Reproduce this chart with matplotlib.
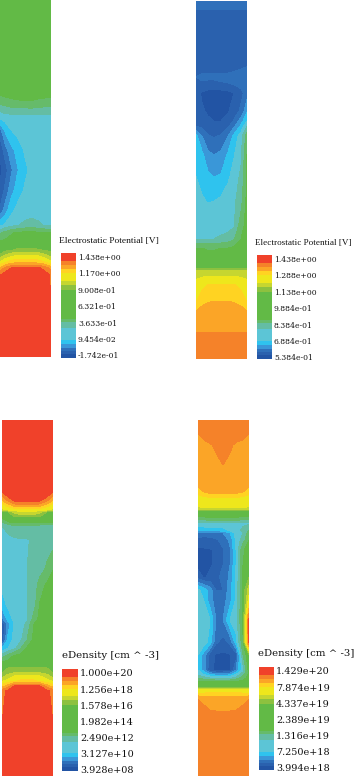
"""Four device cross sections: potential and electron density contour maps."""

import matplotlib

matplotlib.use("Agg")
import matplotlib.pyplot as plt
from matplotlib.colors import BoundaryNorm, ListedColormap
import numpy as np

W, H = 356, 776

BAND_COLORS = [
    "#2254a4", "#2a61ae", "#2f70ba", "#3a97d8", "#2fc3ee", "#5cc5d6", "#64bda4", "#66bb6a",
    "#62ba46", "#8dc13f", "#c6d630", "#eee71c", "#ffd322", "#fba527", "#f58229", "#f0412a",
]
BAND_HEIGHTS = [4, 3, 3, 4, 4, 12, 6, 3, 28, 5, 4, 8, 4, 4, 4, 8]

COLS = [0, 6, 12, 18, 25, 32, 38, 45, 51]

# each cell is a position on the colour band scale (0 = lowest band, 15 = top band)
PHI_A_ROWS = [0, 90, 95, 102, 115, 120, 130, 150, 170, 190, 210, 225, 233, 245, 250, 255, 262, 268, 275, 357]
PHI_A = [
    [8.5, 8.5, 8.5, 8.5, 8.5, 8.5, 8.5, 8.5, 8.5],
    [8.5, 8.5, 8.5, 8.5, 8.5, 8.5, 8.5, 8.5, 8.5],
    [8.0, 8.2, 8.3, 8.4, 8.4, 8.4, 8.4, 8.3, 8.2],
    [7.2, 7.5, 7.7, 7.8, 7.9, 7.9, 7.7, 7.6, 7.5],
    [5.5, 5.8, 5.9, 5.9, 5.9, 6.0, 6.0, 6.0, 6.0],
    [4.7, 5.2, 5.5, 5.5, 5.6, 5.6, 5.6, 5.6, 5.6],
    [2.2, 4.2, 5.0, 5.4, 5.5, 5.5, 5.5, 5.5, 5.5],
    [1.0, 2.5, 3.7, 4.3, 5.1, 5.5, 5.5, 5.5, 5.5],
    [0.6, 1.5, 2.8, 3.9, 4.7, 5.3, 5.5, 5.5, 5.5],
    [1.0, 2.2, 3.6, 4.4, 5.1, 5.5, 5.5, 5.5, 5.5],
    [1.9, 3.4, 4.7, 5.3, 5.5, 5.5, 5.5, 5.5, 5.5],
    [4.6, 5.2, 5.6, 5.9, 6.2, 6.4, 6.2, 5.9, 5.7],
    [6.8, 7.4, 7.9, 8.2, 8.3, 8.3, 8.2, 8.1, 8.0],
    [8.5, 8.5, 8.5, 8.5, 8.5, 8.5, 8.5, 8.5, 8.5],
    [8.5, 8.7, 8.9, 9.2, 9.3, 9.3, 9.1, 8.9, 8.7],
    [9.0, 10.0, 10.6, 10.9, 11.0, 11.0, 10.8, 10.2, 9.4],
    [10.8, 11.8, 12.4, 12.7, 12.7, 12.7, 12.5, 12.0, 11.2],
    [13.0, 14.2, 15.0, 15.2, 15.3, 15.3, 15.2, 14.6, 13.5],
    [14.8, 15.5, 15.5, 15.5, 15.5, 15.5, 15.5, 15.5, 14.8],
    [15.5, 15.5, 15.5, 15.5, 15.5, 15.5, 15.5, 15.5, 15.5],
]

PHI_B_ROWS = [0, 8, 12, 60, 68, 76, 82, 92, 110, 120, 125, 135, 153, 175, 200, 225, 238, 247, 262,
              267, 271, 283, 300, 310, 329, 332, 358]
PHI_B = [
    [2.5, 2.5, 2.5, 2.5, 2.5, 2.5, 2.5, 2.5, 2.5],
    [2.1, 2.1, 2.1, 2.1, 2.1, 2.1, 2.1, 2.1, 2.1],
    [1.7, 1.7, 1.7, 1.7, 1.7, 1.7, 1.7, 1.7, 1.7],
    [1.5, 1.5, 1.5, 1.5, 1.5, 1.5, 1.5, 1.5, 1.5],
    [1.7, 1.7, 1.7, 1.7, 1.6, 1.6, 1.8, 2.0, 2.2],
    [2.0, 2.2, 2.2, 2.2, 2.3, 2.4, 2.4, 2.4, 2.4],
    [1.9, 1.9, 1.8, 1.8, 1.9, 2.0, 2.2, 2.4, 2.5],
    [1.3, 0.9, 0.6, 0.6, 0.6, 0.7, 1.0, 1.7, 2.5],
    [1.5, 1.1, 0.9, 0.6, 0.6, 0.9, 1.5, 2.2, 3.8],
    [1.7, 1.4, 1.1, 1.0, 1.0, 1.3, 2.1, 3.5, 5.0],
    [2.0, 1.7, 1.3, 1.2, 1.3, 1.8, 2.8, 4.2, 6.0],
    [4.3, 3.0, 2.1, 1.9, 2.1, 3.0, 4.3, 5.5, 7.5],
    [4.8, 4.2, 3.2, 2.95, 3.2, 4.1, 4.9, 5.8, 8.0],
    [5.0, 4.7, 4.2, 3.95, 4.1, 4.8, 5.4, 6.2, 8.2],
    [5.2, 5.1, 4.95, 5.0, 5.2, 5.5, 5.8, 6.6, 8.3],
    [5.5, 5.5, 5.5, 5.5, 5.5, 5.6, 5.9, 7.6, 8.4],
    [5.9, 5.9, 5.9, 6.0, 6.2, 6.4, 6.9, 8.0, 8.5],
    [8.0, 8.0, 7.9, 7.9, 8.0, 8.0, 8.2, 8.4, 8.5],
    [8.5, 8.5, 8.5, 8.5, 8.5, 8.5, 8.5, 8.5, 8.5],
    [8.9, 8.9, 8.9, 8.9, 8.9, 8.9, 8.9, 8.9, 8.9],
    [10.5, 10.5, 10.5, 10.5, 10.5, 10.5, 10.5, 10.5, 10.5],
    [11.3, 11.6, 12.0, 12.0, 12.0, 12.0, 12.0, 11.6, 11.3],
    [11.9, 12.6, 12.9, 13.0, 13.0, 13.0, 12.9, 12.6, 11.9],
    [13.0, 13.4, 13.5, 13.5, 13.5, 13.5, 13.5, 13.4, 13.0],
    [13.8, 13.8, 13.8, 13.8, 13.8, 13.8, 13.8, 13.8, 13.8],
    [14.1, 14.1, 14.1, 14.1, 14.1, 14.1, 14.1, 14.1, 14.1],
    [14.5, 14.5, 14.5, 14.5, 14.5, 14.5, 14.5, 14.5, 14.5],
]

DENS_A_ROWS = [0, 70, 76, 81, 85, 90, 92, 97, 102, 106, 120, 150, 165, 185, 200, 204, 220, 228, 236,
               244, 252, 256, 261, 266, 271, 356]
DENS_A = [
    [15.5, 15.5, 15.5, 15.5, 15.5, 15.5, 15.5, 15.5, 15.5],
    [15.3, 15.5, 15.5, 15.5, 15.5, 15.5, 15.5, 15.5, 15.3],
    [14.0, 15.2, 15.6, 15.6, 15.6, 15.6, 15.6, 15.2, 14.0],
    [12.8, 14.0, 15.0, 15.1, 15.1, 15.1, 15.0, 14.0, 12.8],
    [11.5, 12.5, 13.5, 14.0, 14.0, 14.0, 13.5, 12.5, 11.5],
    [10.8, 11.0, 11.2, 11.5, 11.5, 11.5, 11.2, 11.0, 10.8],
    [8.6, 9.0, 10.3, 10.8, 11.0, 10.8, 10.3, 9.0, 8.6],
    [8.4, 8.5, 8.8, 9.0, 9.0, 9.0, 8.8, 8.5, 8.4],
    [7.0, 7.9, 8.3, 8.3, 8.3, 8.3, 8.2, 8.2, 8.1],
    [6.0, 6.4, 6.8, 6.8, 6.8, 6.7, 6.6, 6.6, 6.6],
    [5.6, 5.7, 5.8, 5.9, 5.9, 6.2, 6.5, 6.5, 6.5],
    [5.5, 5.5, 5.6, 5.8, 6.0, 6.3, 6.6, 7.2, 8.0],
    [5.2, 5.5, 5.6, 5.8, 6.0, 6.4, 7.5, 8.2, 8.4],
    [4.5, 5.2, 5.5, 5.7, 5.9, 6.6, 8.1, 8.4, 8.5],
    [2.5, 4.3, 5.2, 5.6, 5.9, 7.5, 8.3, 8.5, 8.5],
    [1.0, 3.5, 5.0, 5.5, 6.2, 8.0, 8.4, 8.5, 8.5],
    [1.0, 4.3, 5.3, 5.7, 7.0, 8.3, 8.5, 8.5, 8.5],
    [4.0, 5.0, 5.6, 6.8, 8.1, 8.4, 8.5, 8.5, 8.5],
    [6.5, 7.4, 8.1, 8.4, 8.5, 8.5, 8.5, 8.5, 8.5],
    [8.5, 8.5, 8.5, 8.5, 8.5, 8.5, 8.5, 8.5, 8.5],
    [8.9, 9.5, 9.7, 9.8, 9.8, 9.8, 9.7, 9.5, 8.9],
    [9.5, 10.4, 11.0, 11.2, 11.2, 11.2, 11.0, 10.4, 9.5],
    [10.9, 11.3, 11.8, 12.2, 12.3, 12.2, 11.8, 11.3, 10.9],
    [12.5, 13.5, 15.0, 15.1, 15.1, 15.1, 15.0, 13.5, 12.5],
    [14.7, 15.2, 15.5, 15.5, 15.5, 15.5, 15.5, 15.2, 14.7],
    [15.5, 15.5, 15.5, 15.5, 15.5, 15.5, 15.5, 15.5, 15.5],
]

DENS_B_ROWS = [0, 15, 25, 45, 50, 65, 72, 77, 80, 88, 91, 95, 98, 103, 110, 113, 120, 130, 145, 157, 170,
               181, 200, 222, 235, 250, 254, 258, 262, 267, 270, 275, 277, 285, 291, 356]
DENS_B = [
    [14.5, 14.5, 14.5, 14.5, 14.5, 14.5, 14.5, 14.5, 14.5],
    [13.9, 14.3, 14.5, 14.5, 14.5, 14.5, 14.5, 14.3, 13.9],
    [13.6, 13.7, 13.9, 14.2, 14.5, 14.2, 13.8, 13.7, 13.6],
    [13.5, 13.5, 13.5, 13.7, 14.0, 13.7, 13.5, 13.5, 13.5],
    [13.5, 13.5, 13.5, 13.5, 13.5, 13.5, 13.5, 13.5, 13.5],
    [13.2, 13.5, 13.5, 13.5, 13.5, 13.5, 13.5, 13.5, 13.2],
    [12.4, 13.0, 13.3, 13.4, 13.4, 13.4, 13.3, 13.0, 12.4],
    [11.6, 11.9, 12.1, 12.1, 12.1, 12.1, 12.1, 11.9, 11.6],
    [11.4, 11.5, 11.6, 11.6, 11.6, 11.6, 11.6, 11.5, 11.4],
    [10.9, 11.0, 11.0, 11.0, 11.0, 11.0, 11.0, 11.0, 10.9],
    [8.5, 8.7, 8.7, 8.7, 8.7, 8.7, 8.7, 8.7, 8.5],
    [8.5, 8.5, 8.5, 8.5, 8.5, 8.5, 8.5, 8.5, 8.5],
    [7.4, 7.6, 8.0, 8.0, 8.0, 8.0, 7.8, 7.6, 7.4],
    [5.7, 5.8, 5.9, 6.0, 6.0, 6.0, 6.0, 5.9, 5.7],
    [4.4, 4.4, 4.4, 4.4, 4.6, 5.2, 5.8, 6.1, 7.0],
    [2.8, 2.7, 2.6, 2.7, 3.0, 4.0, 5.4, 6.0, 7.5],
    [1.5, 1.4, 1.6, 1.8, 2.4, 3.2, 5.2, 6.5, 8.0],
    [0.8, 0.9, 0.9, 1.2, 1.9, 2.9, 5.0, 7.9, 8.3],
    [0.7, 0.8, 0.9, 1.2, 2.0, 3.0, 5.0, 8.0, 8.6],
    [1.5, 0.9, 1.2, 1.9, 2.1, 3.3, 5.1, 8.1, 8.9],
    [5.2, 4.5, 3.5, 2.0, 2.0, 3.6, 5.2, 8.3, 10.5],
    [5.5, 5.0, 3.5, 2.5, 2.5, 3.7, 5.2, 8.2, 11.5],
    [6.0, 5.6, 5.0, 3.0, 3.0, 5.0, 5.6, 8.2, 15.2],
    [5.9, 5.5, 4.6, 2.2, 1.6, 2.3, 4.6, 7.9, 15.2],
    [5.0, 3.5, 1.5, 0.9, 0.8, 0.9, 1.5, 7.0, 8.9],
    [5.0, 3.5, 1.2, 0.8, 0.8, 0.9, 3.0, 5.5, 8.5],
    [5.6, 4.8, 3.8, 3.2, 3.2, 3.5, 4.8, 6.5, 8.3],
    [6.8, 6.5, 6.0, 5.7, 5.6, 5.8, 6.4, 7.6, 8.4],
    [8.3, 8.3, 8.2, 8.2, 8.2, 8.2, 8.2, 8.3, 8.3],
    [8.9, 8.9, 8.9, 8.9, 8.9, 8.9, 8.9, 8.9, 8.9],
    [11.5, 11.5, 11.5, 11.5, 11.5, 11.5, 11.5, 11.5, 11.5],
    [12.2, 12.3, 12.5, 12.6, 12.6, 12.6, 12.5, 12.3, 12.2],
    [13.9, 13.3, 13.2, 13.2, 13.2, 13.2, 13.2, 13.3, 13.9],
    [14.2, 14.0, 13.6, 13.5, 13.5, 13.5, 13.6, 14.0, 14.2],
    [14.2, 14.2, 14.05, 14.0, 14.0, 14.0, 14.05, 14.2, 14.2],
    [14.5, 14.5, 14.5, 14.5, 14.5, 14.5, 14.5, 14.5, 14.5],
]

PHI_A_TICKS = ["1.438e+00", "1.170e+00", "9.008e-01", "6.321e-01", "3.633e-01", "9.454e-02", "-1.742e-01"]
PHI_B_TICKS = ["1.438e+00", "1.288e+00", "1.138e+00", "9.884e-01", "8.384e-01", "6.884e-01", "5.384e-01"]
DENS_A_TICKS = ["1.000e+20", "1.256e+18", "1.578e+16", "1.982e+14", "2.490e+12", "3.127e+10", "3.928e+08"]
DENS_B_TICKS = ["1.429e+20", "7.874e+19", "4.337e+19", "2.389e+19", "1.316e+19", "7.250e+18", "3.994e+18"]

cmap = ListedColormap(BAND_COLORS)
norm = BoundaryNorm(np.arange(17), cmap.N)


def px_axes(fig, x0, y0, x1, y1):
    ax = fig.add_axes([x0 / W, 1 - y1 / H, (x1 - x0) / W, (y1 - y0) / H])
    ax.set_axis_off()
    return ax


def draw_field(fig, box, rows, grid):
    ax = px_axes(fig, *box)
    ax.contourf(COLS, rows, np.array(grid), levels=np.arange(17), cmap=cmap, norm=norm, antialiased=False)
    ax.set_xlim(COLS[0], COLS[-1])
    ax.set_ylim(rows[-1], rows[0])


def draw_bar(fig, box, title, title_xy, title_font, title_size, ticks, tick_x, tick_top, tick_step, tick_size):
    ax = px_axes(fig, *box)
    edges = np.concatenate([[0], np.cumsum(BAND_HEIGHTS)])
    ax.pcolormesh([0, 1], edges, np.arange(16).reshape(-1, 1), cmap=cmap, norm=norm)
    ax.set_ylim(edges[0], edges[-1])
    fig.text(title_xy[0] / W, 1 - title_xy[1] / H, title, family=title_font, fontsize=title_size,
             color="#111111", va="center", ha="left")
    for i, label in enumerate(ticks):
        fig.text(tick_x / W, 1 - (tick_top + i * tick_step) / H, label, family="DejaVu Serif",
                 fontsize=tick_size, color="#111111", va="center", ha="left")


fig = plt.figure(figsize=(W / 100, H / 100), dpi=100, facecolor="white")

draw_field(fig, (-1, 0, 51, 357), PHI_A_ROWS, PHI_A)
draw_field(fig, (196, 1, 247, 359), PHI_B_ROWS, PHI_B)
draw_field(fig, (2, 420, 53, 776), DENS_A_ROWS, DENS_A)
draw_field(fig, (198, 420, 249, 776), DENS_B_ROWS, DENS_B)

draw_bar(fig, (61, 253, 76, 358), "Electrostatic Potential [V]", (59, 241), "Liberation Serif", 6.8,
         PHI_A_TICKS, 78, 258, 16.4, 5.5)
draw_bar(fig, (256.5, 255, 272, 359), "Electrostatic Potential [V]", (255, 243), "Liberation Serif", 6.6,
         PHI_B_TICKS, 274, 260, 16.4, 5.5)
draw_bar(fig, (62, 669, 78, 771), "eDensity [cm ^ -3]", (62, 656), "DejaVu Serif", 7.4,
         DENS_A_TICKS, 80, 674, 16.1, 6.9)
draw_bar(fig, (259, 667, 274, 770), "eDensity [cm ^ -3]", (258, 654), "DejaVu Serif", 7.3,
         DENS_B_TICKS, 276, 672, 16.1, 6.9)

fig.savefig("out.png", dpi=100)
